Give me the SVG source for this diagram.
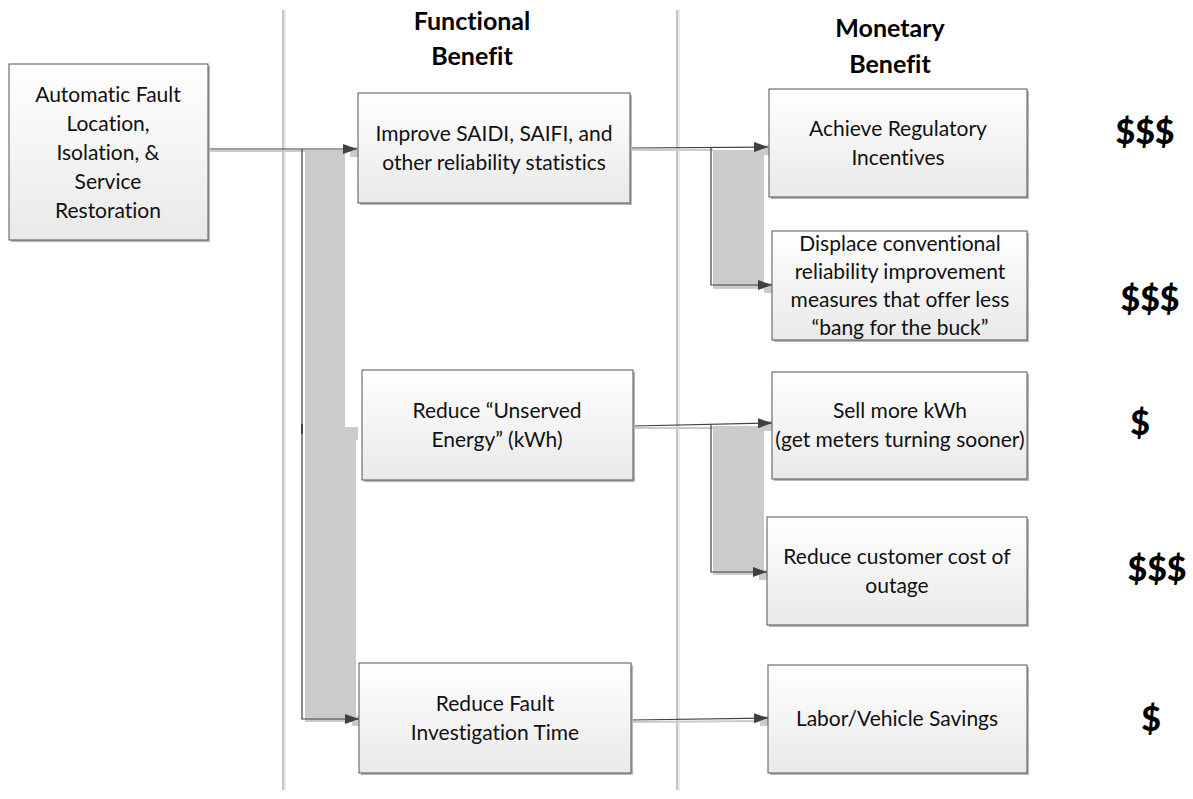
<svg xmlns="http://www.w3.org/2000/svg" width="1193" height="799" viewBox="0 0 1193 799">
  <defs>
    <linearGradient id="boxFill" x1="0" y1="0" x2="0" y2="1">
      <stop offset="0" stop-color="#ffffff"/>
      <stop offset="1" stop-color="#e9e9e9"/>
    </linearGradient>
    <marker id="arrow" viewBox="0 0 14 10" refX="14" refY="5" markerWidth="14" markerHeight="10" markerUnits="userSpaceOnUse" orient="auto">
      <path d="M0,0 L14,5 L0,10 Z" fill="#404040"/>
    </marker>
  </defs>
  <style>
    text { font-variant-ligatures: none; }
    .box { fill: url(#boxFill); stroke: #555555; stroke-width: 1; }
    .shadow { fill: #b8b8b8; }
    .lbl { font-family: Lato, "Open Sans", "Liberation Sans", sans-serif; font-size: 21px; fill: #111111; text-anchor: middle; }
    .title { font-family: Lato, "Open Sans", "Liberation Sans", sans-serif; font-size: 25px; font-weight: bold; fill: #000000; text-anchor: middle; }
    .money { font-family: Lato, "Open Sans", "Liberation Sans", sans-serif; font-size: 34px; font-weight: 900; fill: #000000; text-anchor: middle; }
    .conn { fill: none; stroke: #404040; stroke-width: 1.2; }
    .cshadow { fill: #cbcbcb; }
    .lshadow { fill: none; stroke: #cbcbcb; stroke-width: 2; }
    .divider { stroke: #8a8a8a; stroke-width: 1; }
    .divider2 { stroke: #d6d6d6; stroke-width: 1; }
  </style>

  <rect width="1193" height="799" fill="#ffffff"/>

  <!-- column dividers -->
  <g id="dividers">
    <line class="divider" x1="283" y1="10" x2="283" y2="790"/>
    <line class="divider2" x1="285" y1="10" x2="285" y2="790"/>
    <line class="divider" x1="677" y1="10" x2="677" y2="790"/>
    <line class="divider2" x1="679" y1="10" x2="679" y2="790"/>
  </g>

  <!-- column headings -->
  <g id="headings">
    <text class="title" x="472" y="30">Functional</text>
    <text class="title" x="472" y="65">Benefit</text>
    <text class="title" x="890" y="37">Monetary</text>
    <text class="title" x="890" y="73">Benefit</text>
  </g>

  <!-- connectors with their drop shadows -->
  <g id="connectors">
    <!-- shadows -->
    <line class="lshadow" x1="210" y1="151" x2="352" y2="151"/>
    <path class="cshadow" d="M305,152 H345 V427 H358 V440 H356 V722 H305 Z"/>
    <rect class="cshadow" x="350" y="147" width="9" height="10"/>
    <rect class="cshadow" x="352" y="716" width="9" height="10"/>

    <line class="lshadow" x1="632" y1="150" x2="713" y2="150"/>
    <rect class="cshadow" x="713" y="150" width="51" height="139"/>
    <rect class="cshadow" x="762" y="145" width="8" height="10"/>
    <rect class="cshadow" x="764" y="283" width="9" height="10"/>

    <line class="lshadow" x1="635" y1="428" x2="713" y2="428"/>
    <rect class="cshadow" x="713" y="426" width="51" height="149"/>
    <rect class="cshadow" x="764" y="421" width="9" height="10"/>
    <rect class="cshadow" x="759" y="570" width="10" height="10"/>

    <line class="lshadow" x1="633" y1="722" x2="765" y2="721"/>
    <rect class="cshadow" x="760" y="716" width="9" height="10"/>

    <!-- lines -->
    <path class="conn" d="M208,149 H357" marker-end="url(#arrow)"/>
    <path class="conn" d="M302,149 V719 H359" marker-end="url(#arrow)"/>
    <line x1="302" y1="424" x2="302" y2="434" stroke="#303030" stroke-width="1.6"/>

    <path class="conn" d="M630,148 L768,147" marker-end="url(#arrow)"/>
    <path class="conn" d="M711,147 V285 H772" marker-end="url(#arrow)"/>

    <path class="conn" d="M633,426 L772,423" marker-end="url(#arrow)"/>
    <path class="conn" d="M711,425 V572 H767" marker-end="url(#arrow)"/>

    <path class="conn" d="M631,720 L768,718" marker-end="url(#arrow)"/>
  </g>

  <!-- source capability -->
  <g id="n-afliss">
    <rect class="shadow" x="11" y="66" width="199" height="176"/>
    <rect class="box" x="9" y="64" width="199" height="176"/>
    <text class="lbl" x="108" y="102">Automatic Fault</text>
    <text class="lbl" x="108" y="131">Location,</text>
    <text class="lbl" x="108" y="160">Isolation, &amp;</text>
    <text class="lbl" x="108" y="189">Service</text>
    <text class="lbl" x="108" y="218">Restoration</text>
  </g>

  <!-- functional benefits -->
  <g id="n-improve">
    <rect class="shadow" x="360" y="95" width="272" height="110"/>
    <rect class="box" x="358" y="93" width="272" height="110"/>
    <text class="lbl" x="494" y="141">Improve SAIDI, SAIFI, and</text>
    <text class="lbl" x="494" y="170">other reliability statistics</text>
  </g>

  <g id="n-unserved">
    <rect class="shadow" x="364" y="372" width="271" height="110"/>
    <rect class="box" x="362" y="370" width="271" height="110"/>
    <text class="lbl" x="497" y="418">Reduce “Unserved</text>
    <text class="lbl" x="497" y="447">Energy” (kWh)</text>
  </g>

  <g id="n-investigation">
    <rect class="shadow" x="361" y="665" width="272" height="110"/>
    <rect class="box" x="359" y="663" width="272" height="110"/>
    <text class="lbl" x="495" y="711">Reduce Fault</text>
    <text class="lbl" x="495" y="740">Investigation Time</text>
  </g>

  <!-- monetary benefits -->
  <g id="n-incentives">
    <rect class="shadow" x="771" y="91" width="258" height="108"/>
    <rect class="box" x="769" y="89" width="258" height="108"/>
    <text class="lbl" x="898" y="136">Achieve Regulatory</text>
    <text class="lbl" x="898" y="165">Incentives</text>
  </g>

  <g id="n-displace">
    <rect class="shadow" x="774" y="233" width="255" height="109"/>
    <rect class="box" x="772" y="231" width="255" height="109"/>
    <text class="lbl" x="900" y="251">Displace conventional</text>
    <text class="lbl" x="900" y="279">reliability improvement</text>
    <text class="lbl" x="900" y="307">measures that offer less</text>
    <text class="lbl" x="900" y="335">“bang for the buck”</text>
  </g>

  <g id="n-sellkwh">
    <rect class="shadow" x="774" y="374" width="255" height="107"/>
    <rect class="box" x="772" y="372" width="255" height="107"/>
    <text class="lbl" x="900" y="418">Sell more kWh</text>
    <text class="lbl" x="900" y="447">(get meters turning sooner)</text>
  </g>

  <g id="n-customer">
    <rect class="shadow" x="769" y="519" width="260" height="108"/>
    <rect class="box" x="767" y="517" width="260" height="108"/>
    <text class="lbl" x="897" y="564">Reduce customer cost of</text>
    <text class="lbl" x="897" y="593">outage</text>
  </g>

  <g id="n-labor">
    <rect class="shadow" x="770" y="667" width="259" height="108"/>
    <rect class="box" x="768" y="665" width="259" height="108"/>
    <text class="lbl" x="897" y="726">Labor/Vehicle Savings</text>
  </g>

  <!-- value ratings -->
  <g id="ratings">
    <text class="money" x="1145" y="144">$$$</text>
    <text class="money" x="1150" y="311">$$$</text>
    <text class="money" x="1140" y="435">$</text>
    <text class="money" x="1157" y="581">$$$</text>
    <text class="money" x="1151" y="731">$</text>
  </g>
</svg>
